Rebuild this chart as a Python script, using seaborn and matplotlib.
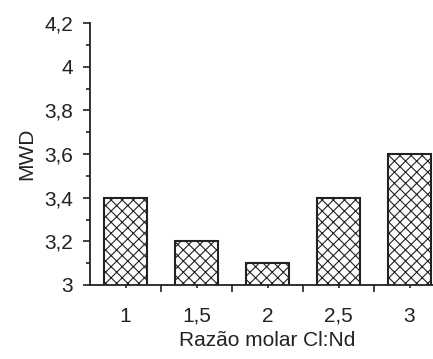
import matplotlib
matplotlib.use("Agg")
import matplotlib.pyplot as plt
import seaborn as sns
import pandas as pd
from matplotlib.ticker import FixedLocator, MultipleLocator, FuncFormatter

ratios = ["1", "1,5", "2", "2,5", "3"]
mwd = [3.4, 3.2, 3.1, 3.4, 3.6]
yticks = [3.0, 3.2, 3.4, 3.6, 3.8, 4.0, 4.2]

sns.set_theme(style="ticks")
plt.rcParams['font.family'] = ['Liberation Sans', 'DejaVu Sans']
plt.rcParams['hatch.linewidth'] = 0.8
plt.rcParams['hatch.color'] = '#333333'

df = pd.DataFrame({"ratio": ratios, "mwd": mwd})

fig = plt.figure(figsize=(4.33, 3.59), dpi=100)
ax = fig.add_axes([90/433, 74/359, 355/433, 262/359])

sns.barplot(data=df, x="ratio", y="mwd", ax=ax, color="white", width=0.6,
            edgecolor="#222222", linewidth=1.5, errorbar=None)
for p in ax.patches:
    p.set_hatch('\\\\\\///')

ax.set_xlim(-0.5, 4.5)
ax.set_ylim(3, 4.2)
ax.set_yticks(yticks)
ax.yaxis.set_major_formatter(FuncFormatter(lambda v, pos: (f"{v:.1f}".rstrip('0').rstrip('.')).replace('.', ',')))
ax.yaxis.set_minor_locator(MultipleLocator(0.1))
ax.xaxis.set_minor_locator(FixedLocator([0.5, 1.5, 2.5, 3.5]))

for s in ["top", "right"]:
    ax.spines[s].set_visible(False)
for s in ["left", "bottom"]:
    ax.spines[s].set_linewidth(1.3)
    ax.spines[s].set_color("#222222")

ax.tick_params(axis='y', which='major', length=5, width=1.2, labelsize=15, pad=7, color="#222222", labelcolor="#222222")
ax.tick_params(axis='y', which='minor', length=3, width=1.2, color="#222222")
ax.tick_params(axis='x', which='major', length=2.5, width=1.2, labelsize=15, pad=13, color="#222222", labelcolor="#222222")
ax.tick_params(axis='x', which='minor', length=5, width=1.2, color="#222222")

ax.set_xlabel("Razão molar Cl:Nd", fontsize=15, color="#222222", labelpad=4)
ax.set_ylabel("MWD", fontsize=15, color="#222222", labelpad=6)

fig.savefig("out.png", dpi=100)
